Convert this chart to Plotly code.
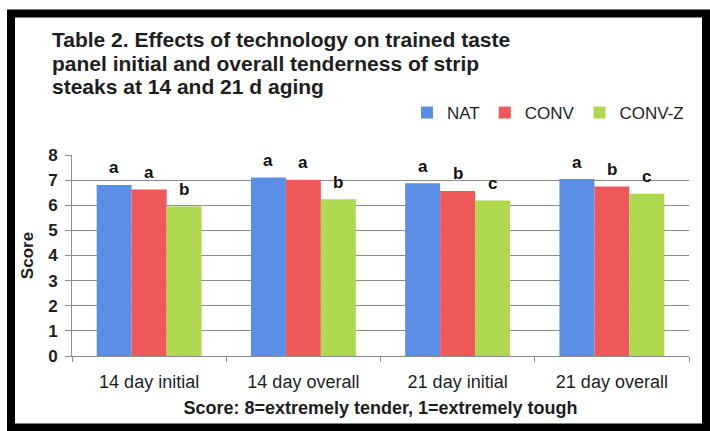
import plotly.graph_objects as go

categories = ["14 day initial", "14 day overall", "21 day initial", "21 day overall"]
series_names = ["NAT", "CONV", "CONV-Z"]
nat_values = [6.81, 7.10, 6.88, 7.04]
conv_values = [6.63, 7.01, 6.57, 6.75]
convz_values = [5.95, 6.24, 6.19, 6.46]
nat_letters = ["a", "a", "a", "a"]
conv_letters = ["a", "a", "b", "b"]
convz_letters = ["b", "b", "c", "c"]
y_ticks = [0, 1, 2, 3, 4, 5, 6, 7, 8]

colors = ["#5b8fe6", "#ee5858", "#aed84e"]
FONT = "Liberation Sans, Arial, sans-serif"

W, H = 710, 431
L, R, T, B = 72, 21, 155, 75
pw, ph = W - L - R, H - T - B


def px_x(x):
    return (x - L) / pw


def px_y(y):
    return (H - B - y) / ph


fig = go.Figure()
all_vals = [nat_values, conv_values, convz_values]
all_letters = [nat_letters, conv_letters, convz_letters]
for name, vals, col in zip(series_names, all_vals, colors):
    fig.add_trace(go.Bar(name=name, x=categories, y=vals,
                         marker=dict(color=col, line=dict(width=0))))

annotations = []
offsets = [-35, 0, 35]
for vals, letters, off in zip(all_vals, all_letters, offsets):
    for c, v, t in zip(categories, vals, letters):
        annotations.append(dict(x=c, y=v, xref="x", yref="y", text="<b>%s</b>" % t,
                                showarrow=False, xshift=off, yshift=17,
                                font=dict(family=FONT, size=17, color="#111111")))

title_lines = ["Table 2. Effects of technology on trained taste",
               "panel initial and overall tenderness of strip",
               "steaks at 14 and 21 d aging"]
title_y = [39.5, 63, 86.5]
for line, yy in zip(title_lines, title_y):
    annotations.append(dict(x=px_x(50), y=px_y(yy), xref="paper", yref="paper",
                            xanchor="left", yanchor="middle", showarrow=False,
                            text="<b>%s</b>" % line,
                            font=dict(family=FONT, size=21, color="#1e1e1e")))

fig.update_layout(
    width=W, height=H,
    margin=dict(l=L, r=R, t=T, b=B, autoexpand=False),
    paper_bgcolor="white", plot_bgcolor="white",
    barmode="group", bargap=0.32, bargroupgap=0,
    font=dict(family=FONT, color="#1e1e1e"),
    annotations=annotations,
    legend=dict(orientation="h", x=1.0, xanchor="right", y=px_y(113), yanchor="middle",
                font=dict(family=FONT, size=17, color="#1e1e1e"),
                bgcolor="rgba(0,0,0,0)", itemwidth=30, tracegroupgap=0),
    xaxis=dict(showline=True, linecolor="#8c8c8c", linewidth=1,
               ticks="outside", tickson="boundaries", ticklen=5, tickcolor="#8c8c8c",
               tickfont=dict(family=FONT, size=18, color="#1e1e1e"),
               ticklabelstandoff=9,
               title=dict(text="<b>Score: 8=extremely tender, 1=extremely tough</b>",
                          font=dict(family=FONT, size=18, color="#1e1e1e"), standoff=10),
               automargin=False),
    yaxis=dict(range=[0, 8], tickvals=y_ticks, showgrid=True, gridcolor="#8c8c8c", gridwidth=1,
               showline=True, linecolor="#8c8c8c", linewidth=1, zeroline=False,
               ticks="outside", ticklen=6, tickcolor="#8c8c8c",
               tickfont=dict(family=FONT, size=17, color="#1e1e1e", weight="bold"),
               ticklabelstandoff=4,
               title=dict(text="<b>Score</b>", font=dict(family=FONT, size=17, color="#1e1e1e"),
                          standoff=10),
               automargin=False),
    shapes=[dict(type="rect", xref="paper", yref="paper",
                 x0=px_x(11), x1=px_x(706), y0=px_y(13.5), y1=px_y(427.5),
                 line=dict(color="black", width=8), fillcolor="rgba(0,0,0,0)", layer="above")],
)

fig.write_html("out.html", config={"displayModeBar": False},
               post_script="document.body.style.margin='0px';")
